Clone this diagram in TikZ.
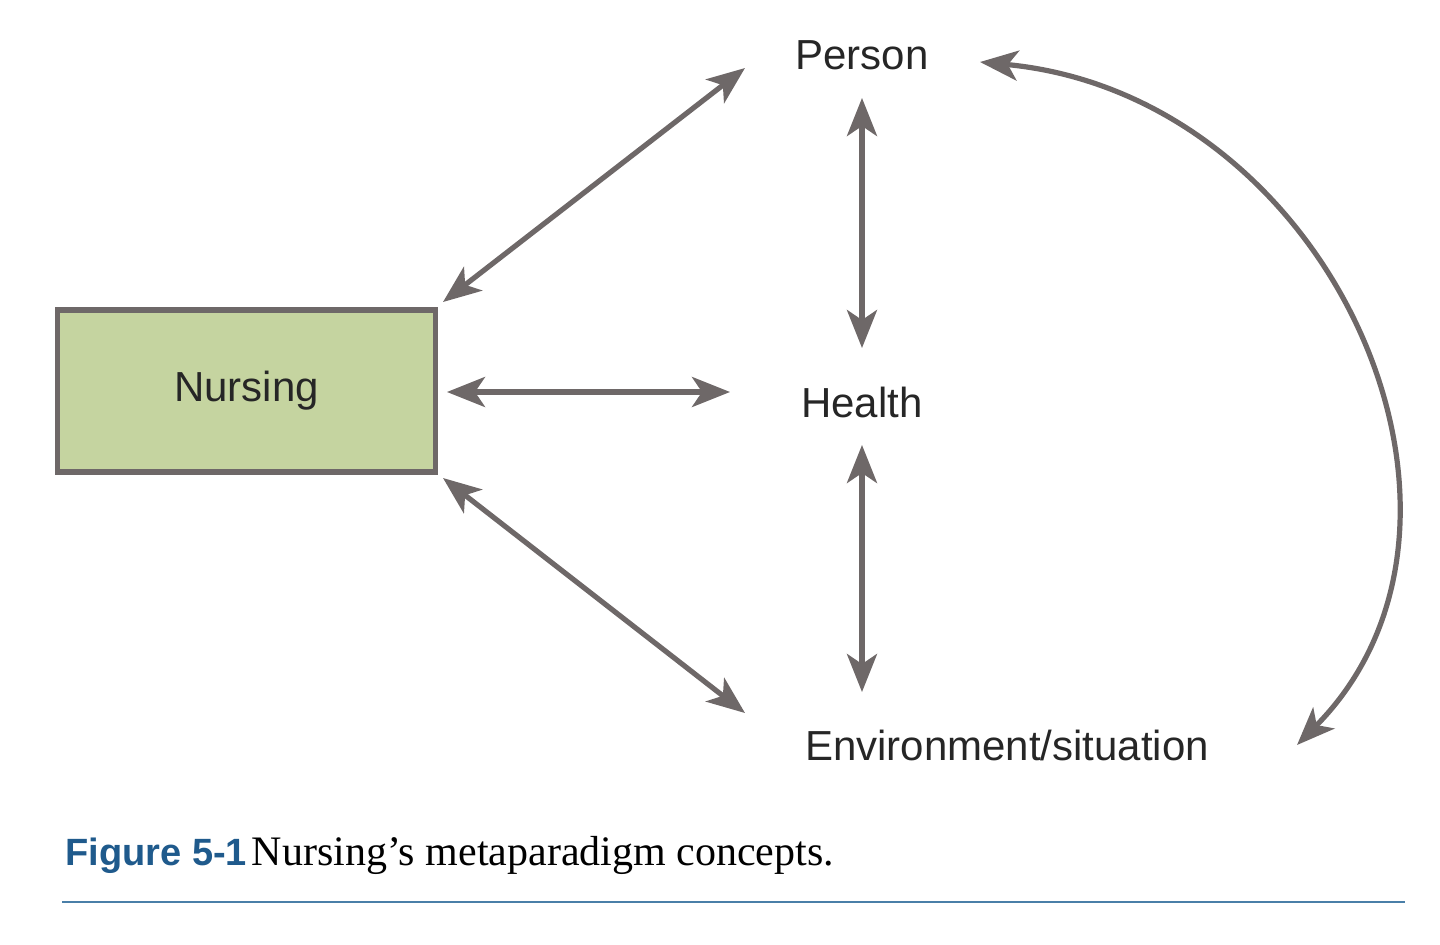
\documentclass[tikz,border=0pt]{standalone}
\usepackage{fontspec}
\setmainfont{Liberation Serif}
\newfontfamily\labfont{Liberation Sans}
\usetikzlibrary{arrows.meta}
\definecolor{arr}{HTML}{6E6868}
\definecolor{boxfill}{HTML}{C5D4A0}
\definecolor{capblue}{HTML}{1F5A8C}
\definecolor{rule}{HTML}{4A7FA8}
\tikzset{
  lab/.style={font=\labfont\fontsize{21}{24}\selectfont, text=black!85, inner sep=0pt},
  conn/.style={draw=arr, line width=2.6pt, {Stealth[length=19pt,width=15pt,inset=5pt]}-{Stealth[length=19pt,width=15pt,inset=5pt]}},
  conn1/.style={draw=arr, line width=2.6pt, -{Stealth[length=19pt,width=15pt,inset=5pt]}},
}
\begin{document}
\begin{tikzpicture}[x=0.5pt,y=-0.5pt]
\useasboundingbox (0,0) rectangle (1440,944);
\node[draw=arr, line width=2.6pt, fill=boxfill, minimum width=189pt, minimum height=81pt, lab] (nursing) at (246.5,391) {Nursing};
\node[lab] (person) at (862,55) {Person};
\node[lab] (health) at (862,402) {Health};
\node[lab] (env) at (1007,745) {Environment/situation};
\coordinate (np1) at (443,302); \coordinate (np2) at (745,68);
\coordinate (nh1) at (447,392); \coordinate (nh2) at (730,392);
\coordinate (ne1) at (443,478); \coordinate (ne2) at (745,713);
\coordinate (ph1) at (862,98); \coordinate (ph2) at (862,348);
\coordinate (he1) at (862,445); \coordinate (he2) at (862,692);
\coordinate (c1) at (980,62); \coordinate (c2) at (1297,745);
\draw[conn] (np1) -- (np2);
\draw[conn] (nh1) -- (nh2);
\draw[conn] (ne1) -- (ne2);
\draw[conn] (ph1) -- (ph2);
\draw[conn] (he1) -- (he2);
\draw[conn] (c1) .. controls (1330,95) and (1520,520) .. (c2);
\node[anchor=base west, inner sep=0pt] (cap) at (65,865) {{\labfont\bfseries\color{capblue}\fontsize{19}{22}\selectfont Figure 5-1} \fontsize{21}{24}\selectfont Nursing’s metaparadigm concepts.};
\coordinate (r1) at (62,902); \coordinate (r2) at (1405,902);
\draw[rule, line width=1pt] (r1) -- (r2);
\end{tikzpicture}
\end{document}
